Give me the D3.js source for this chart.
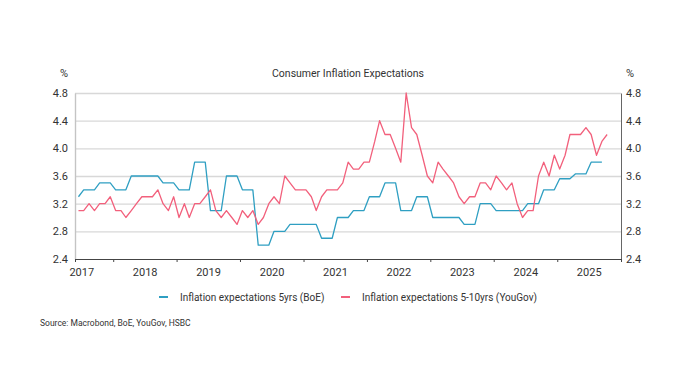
<!DOCTYPE html>
<html><head><meta charset="utf-8">
<script src="https://cdn.jsdelivr.net/npm/d3@7"></script>
<style>
body{margin:0;background:#fff;}
text{font-family:Roboto,"Liberation Sans",sans-serif;fill:#333;}
</style></head><body>
<svg id="chart" width="696" height="390"></svg>
<script>
const chartTitle = "Consumer Inflation Expectations";
const unitLabel = "%";
const sourceText = "Source: Macrobond, BoE, YouGov, HSBC";
const seriesNames = ["Inflation expectations 5yrs (BoE)", "Inflation expectations 5-10yrs (YouGov)"];
const seriesColors = ["#2f9fc2", "#f2607c"];
// monthly observations starting June 2017
const firstYear = 2017, firstMonth = 5;
const boe5yr = [3.3,
 3.4,3.4,3.4, 3.5,3.5,3.5, 3.4,3.4,3.4, 3.6,3.6,3.6,3.6,3.6,3.6,
 3.5,3.5,3.5, 3.4,3.4,3.4, 3.8,3.8,3.8, 3.1,3.1,3.1, 3.6,3.6,3.6,
 3.4,3.4,3.4, 2.6,2.6,2.6, 2.8,2.8,2.8, 2.9,2.9,2.9,2.9,2.9,2.9,
 2.7,2.7,2.7, 3.0,3.0,3.0, 3.1,3.1,3.1, 3.3,3.3,3.3, 3.5,3.5,3.5,
 3.1,3.1,3.1, 3.3,3.3,3.3, 3.0,3.0,3.0,3.0,3.0,3.0, 2.9,2.9,2.9,
 3.2,3.2,3.2, 3.1,3.1,3.1,3.1,3.1,3.1, 3.2,3.2,3.2, 3.4,3.4,3.4,
 3.56,3.56,3.56, 3.63,3.63,3.63, 3.8,3.8,3.8];
const yougov5to10 = [3.1,3.1,3.2,3.1,3.2,3.2,3.3,
 3.1,3.1,3.0,3.1,3.2,3.3,3.3,3.3,3.4,3.2,3.1,3.3,
 3.0,3.2,3.0,3.2,3.2,3.3,3.4,3.1,3.0,3.1,3.0,2.9,
 3.1,3.0,3.1,2.9,3.0,3.2,3.3,3.2,3.6,3.5,3.4,3.4,
 3.4,3.3,3.1,3.3,3.4,3.4,3.4,3.5,3.8,3.7,3.7,3.8,
 3.8,4.1,4.4,4.2,4.2,4.0,3.8,4.8,4.3,4.2,3.9,3.6,
 3.5,3.8,3.7,3.6,3.5,3.3,3.2,3.3,3.3,3.5,3.5,3.4,
 3.6,3.5,3.4,3.5,3.2,3.0,3.1,3.1,3.6,3.8,3.6,3.9,
 3.7,3.9,4.2,4.2,4.2,4.3,4.2,3.9,4.1,4.2];
const yTicks = [2.4, 2.8, 3.2, 3.6, 4.0, 4.4, 4.8];
const yearLabels = [2017, 2018, 2019, 2020, 2021, 2022, 2023, 2024, 2025];
const yearBoundaries = [2018, 2019, 2020, 2021, 2022, 2023, 2024, 2025];

const svg = d3.select("#chart");
const L = 75, R = 621, T = 93, B = 259;
const x = d3.scaleTime().domain([new Date(2017,4,26), new Date(2026,0,3)]).range([L, R]);
const y = d3.scaleLinear().domain([2.4, 4.8]).range([B, T]);
const dateOf = i => new Date(firstYear, firstMonth + i, 15);

// gridlines
svg.append("g").attr("transform", `translate(${L},0)`)
  .call(d3.axisLeft(y).tickValues(yTicks.slice(1)).tickSize(-(R - L)).tickFormat(""))
  .call(g => g.select(".domain").remove())
  .call(g => g.selectAll("line").attr("stroke", "#d8d8d8").attr("stroke-width", 1.4));

// left axis
svg.append("g").attr("transform", `translate(${L},0)`)
  .call(d3.axisLeft(y).tickValues(yTicks).tickFormat(d3.format(".1f")).tickSize(0).tickPadding(7))
  .call(g => g.select(".domain").attr("stroke", "#c4c4c4").attr("stroke-width", 1.4))
  .call(g => g.selectAll("text").attr("font-size", 11).attr("fill", "#333"));
// right axis
svg.append("g").attr("transform", `translate(${R},0)`)
  .call(d3.axisRight(y).tickValues(yTicks).tickFormat(d3.format(".1f")).tickSize(0).tickPadding(5))
  .call(g => g.select(".domain").attr("stroke", "#666"))
  .call(g => g.selectAll("text").attr("font-size", 11).attr("fill", "#333"));

// bottom axis ticks
const bTicks = [x.domain()[0], ...yearBoundaries.map(yr => new Date(yr, 0, 1)), x.domain()[1]];
svg.append("g").attr("transform", `translate(0,${B})`)
  .call(d3.axisBottom(x).tickValues(bTicks).tickSize(3).tickSizeOuter(0).tickFormat(""))
  .call(g => g.select(".domain").attr("stroke", "#444"))
  .call(g => g.selectAll("line").attr("stroke", "#444"));
// year labels at mid-year
svg.append("g").attr("transform", `translate(0,${B})`)
  .call(d3.axisBottom(x).tickValues(yearLabels.map(yr => new Date(yr, 6, 1))).tickSize(0).tickPadding(9).tickFormat(d3.timeFormat("%Y")))
  .call(g => g.select(".domain").remove())
  .call(g => g.selectAll("text").attr("font-size", 11).attr("fill", "#333"));

// lines
const line = d3.line().x((d, i) => x(dateOf(i))).y(d => y(d));
[boe5yr, yougov5to10].forEach((s, k) => {
  svg.append("path").datum(s).attr("d", line)
    .attr("fill", "none").attr("stroke", seriesColors[k]).attr("stroke-width", 1.3)
    .attr("stroke-linejoin", "round");
});

// titles
svg.append("text").attr("x", 348).attr("y", 77).attr("text-anchor", "middle")
  .attr("font-size", 10.5).text(chartTitle);
svg.append("text").attr("x", 68).attr("y", 77).attr("text-anchor", "end").attr("font-size", 11).text(unitLabel);
svg.append("text").attr("x", 626).attr("y", 77).attr("text-anchor", "start").attr("font-size", 11).text(unitLabel);

// legend
const legendX = [159, 341];
seriesNames.forEach((n, k) => {
  svg.append("line").attr("x1", legendX[k]).attr("x2", legendX[k] + 9).attr("y1", 297).attr("y2", 297)
    .attr("stroke", seriesColors[k]).attr("stroke-width", 2);
  svg.append("text").attr("x", legendX[k] + 21).attr("y", 300.5).attr("font-size", 10).text(n);
});

svg.append("text").attr("x", 40).attr("y", 326).attr("font-size", 8.5).text(sourceText);
</script>
</body></html>
